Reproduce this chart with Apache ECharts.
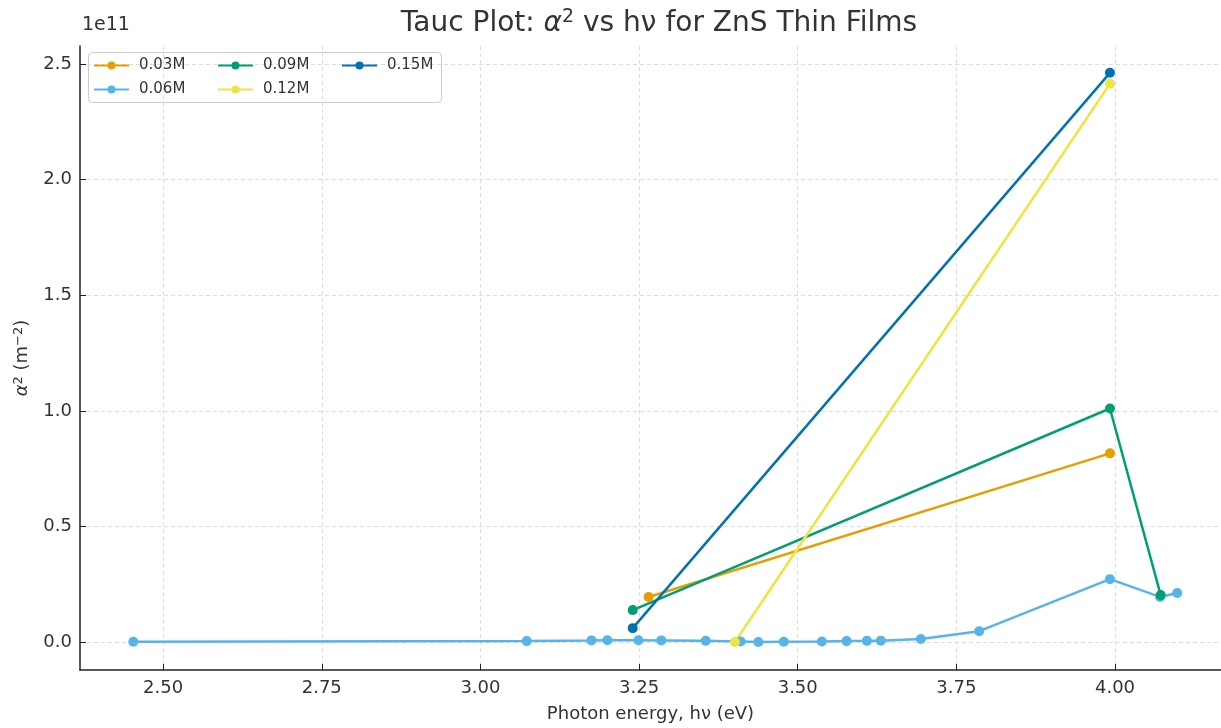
<!DOCTYPE html>
<html>
<head>
<meta charset="utf-8">
<script src="https://cdn.jsdelivr.net/npm/echarts@6/dist/echarts.min.js"></script>
<style>
html,body{margin:0;padding:0;background:#fff;}
#chart{width:1221px;height:728px;}
</style>
</head>
<body>
<div id="chart"></div>
<script>
// Photon energy (eV) and alpha^2 values in units of 1e11 m^-2
const seriesNames = ['0.03M', '0.06M', '0.09M', '0.12M', '0.15M'];

const hv_003M = [3.265, 3.992];
const a2_003M = [0.195, 0.816];

const hv_006M = [2.453, 3.073, 3.175, 3.200, 3.249, 3.285, 3.355, 3.410, 3.438, 3.478, 3.538, 3.577, 3.609, 3.631, 3.694, 3.786, 3.992, 4.071, 4.098];
const a2_006M = [0.001, 0.004, 0.007, 0.008, 0.008, 0.007, 0.005, 0.002, 0.000, 0.001, 0.002, 0.004, 0.005, 0.006, 0.013, 0.047, 0.272, 0.195, 0.212];

const hv_009M = [3.240, 3.992, 4.072];
const a2_009M = [0.138, 1.010, 0.203];

const hv_012M = [3.401, 3.992];
const a2_012M = [0.000, 2.415];

const hv_015M = [3.240, 3.992];
const a2_015M = [0.060, 2.462];

const xTicks = [2.50, 2.75, 3.00, 3.25, 3.50, 3.75, 4.00];
const yTicks = [0.0, 0.5, 1.0, 1.5, 2.0, 2.5];

const colors = ['#E69F00', '#56B4E9', '#009E73', '#F0E442', '#0072B2'];
const xs = [hv_003M, hv_006M, hv_009M, hv_012M, hv_015M];
const ys = [a2_003M, a2_006M, a2_009M, a2_012M, a2_015M];

const FONT = 'DejaVu Sans';
const chart = echarts.init(document.getElementById('chart'), null, {renderer: 'canvas'});

const series = seriesNames.map((name, i) => ({
  name: name,
  type: 'line',
  data: xs[i].map((x, j) => [x, ys[i][j]]),
  symbol: 'circle',
  symbolSize: 10,
  showSymbol: true,
  lineStyle: {width: 2.5, color: colors[i]},
  itemStyle: {color: colors[i]},
  emphasis: {disabled: true},
  animation: false
}));

const legendBase = {
  orient: 'vertical',
  top: 58,
  padding: 0,
  itemWidth: 35,
  itemHeight: 10,
  itemGap: 9,
  textStyle: {fontFamily: FONT, fontSize: 15, color: '#333', padding: [0, 0, 0, 5]}
};

chart.setOption({
  animation: false,
  backgroundColor: '#fff',
  color: colors,
  title: {
    text: 'Tauc Plot: {i|α}{sup|2} vs hν for ZnS Thin Films',
    left: 654,
    top: 3,
    textAlign: 'center',
    textStyle: {
      fontFamily: FONT, fontSize: 28, fontWeight: 'normal', color: '#333',
      rich: {
        i: {fontFamily: FONT, fontSize: 28, fontStyle: 'italic', color: '#333'},
        sup: {fontFamily: FONT, fontSize: 19, color: '#333', verticalAlign: 'bottom', padding: [0, 0, 13, 0]}
      }
    }
  },
  grid: {left: 80, right: 0, top: 46, bottom: 56},
  legend: [
    Object.assign({}, legendBase, {left: 93, data: ['0.03M', '0.06M']}),
    Object.assign({}, legendBase, {left: 217, data: ['0.09M', '0.12M']}),
    Object.assign({}, legendBase, {left: 341, data: ['0.15M']})
  ],
  graphic: [
    {type: 'rect', left: 88, top: 52, z: 0, zlevel: 0,
     shape: {width: 353, height: 50, r: 4},
     style: {fill: 'rgba(255,255,255,0.85)', stroke: '#cccccc', lineWidth: 1}},
    {type: 'text', left: 82, top: 16,
     style: {text: '1e11', fontFamily: FONT, fontSize: 19, fill: '#333'}}
  ],
  xAxis: {
    type: 'value',
    min: 2.369,
    max: 4.167,
    name: 'Photon energy, hν (eV)',
    nameLocation: 'middle',
    nameGap: 35,
    nameTextStyle: {fontFamily: FONT, fontSize: 18, color: '#333'},
    axisLine: {show: true, onZero: false, lineStyle: {color: '#222', width: 1.5}},
    axisTick: {show: true, inside: true, length: 6, customValues: xTicks, lineStyle: {color: '#222'}},
    axisLabel: {customValues: xTicks, fontFamily: FONT, fontSize: 18, color: '#333', margin: 9,
      formatter: v => v.toFixed(2)},
    splitLine: {show: true, lineStyle: {color: '#dddddd', type: [4, 3], width: 1}}
  },
  yAxis: {
    type: 'value',
    min: -0.121,
    max: 2.578,
    name: '{i|α}{sup|2} (m{sup|−2})',
    nameLocation: 'middle',
    nameGap: 47,
    nameRotate: 90,
    nameTextStyle: {fontFamily: FONT, fontSize: 18, color: '#333',
      rich: {
        i: {fontFamily: FONT, fontSize: 18, fontStyle: 'italic', color: '#333'},
        sup: {fontFamily: FONT, fontSize: 13, color: '#333', verticalAlign: 'bottom', padding: [0, 0, 8, 0]}
      }},
    axisLine: {show: true, onZero: false, lineStyle: {color: '#222', width: 1.5}},
    axisTick: {show: true, inside: true, length: 6, customValues: yTicks, lineStyle: {color: '#222'}},
    axisLabel: {customValues: yTicks, fontFamily: FONT, fontSize: 18, color: '#333', margin: 8,
      formatter: v => v.toFixed(1)},
    splitLine: {show: true, lineStyle: {color: '#dddddd', type: [4, 3], width: 1}}
  },
  series: series
});
</script>
</body>
</html>
